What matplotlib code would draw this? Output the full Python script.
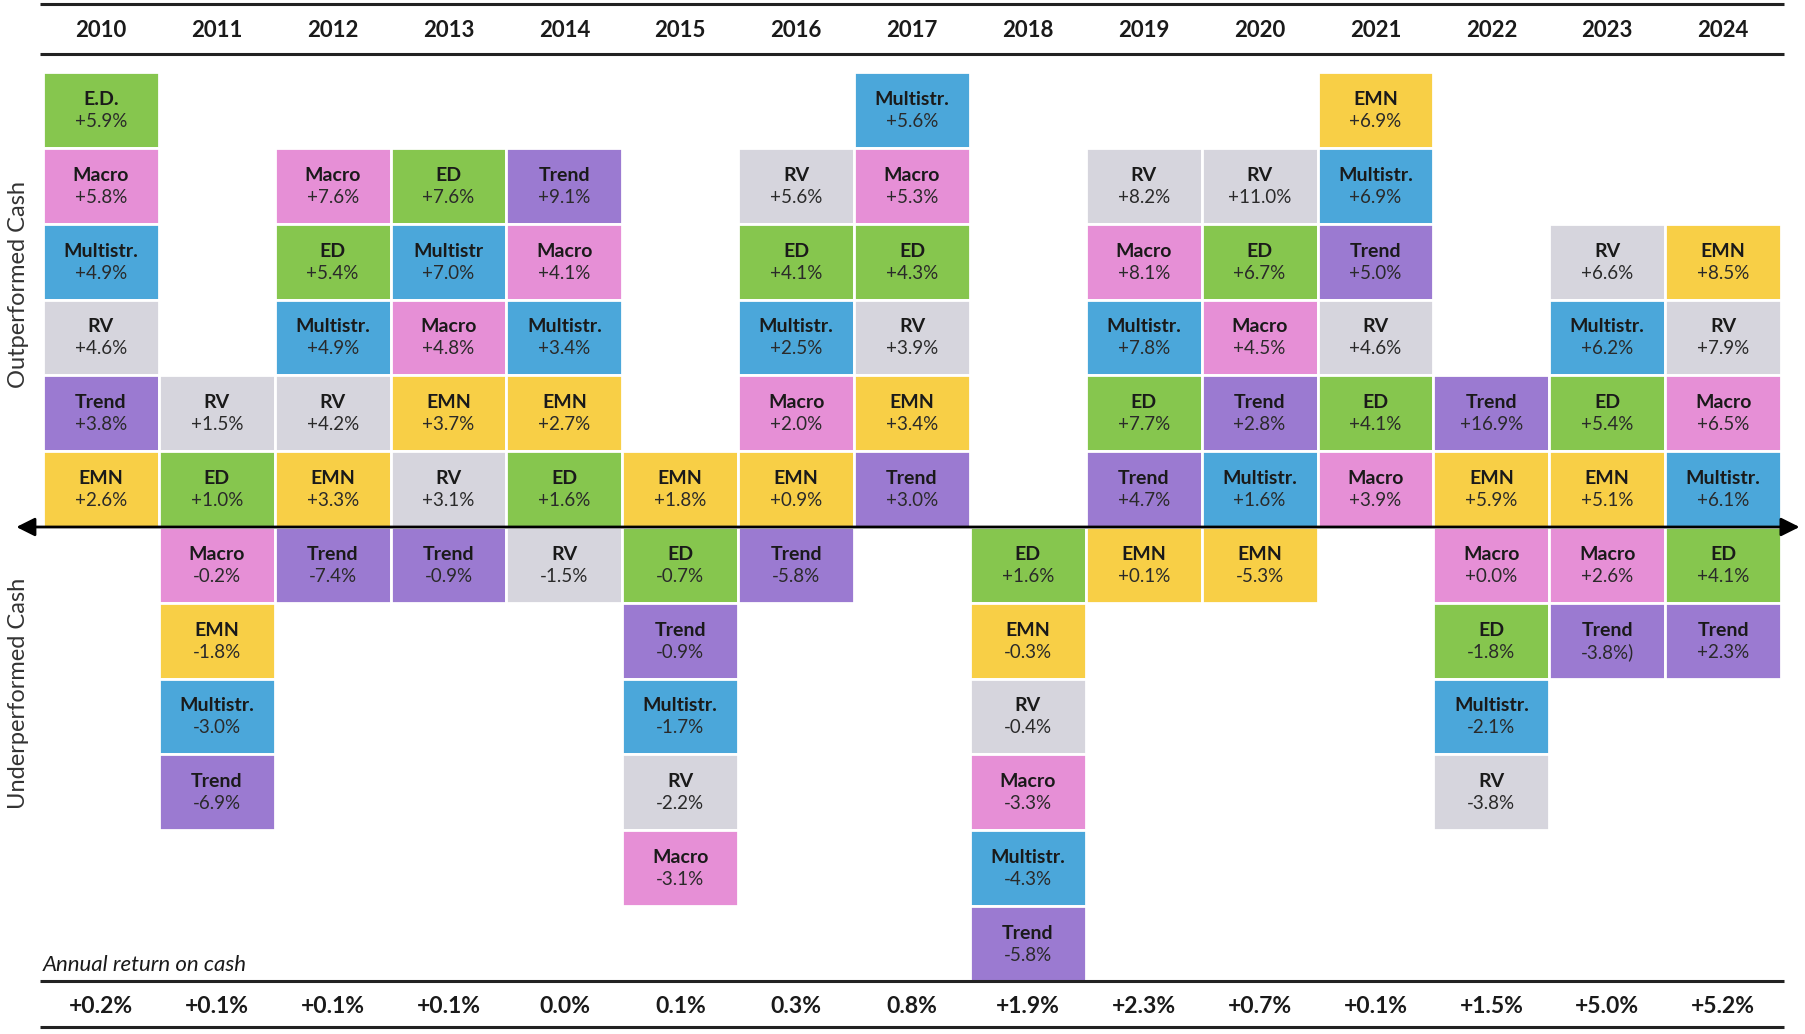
import matplotlib.pyplot as plt
import numpy as np

years = [2010, 2011, 2012, 2013, 2014, 2015, 2016, 2017, 2018, 2019, 2020, 2021, 2022, 2023, 2024]
cash = ['+0.2%', '+0.1%', '+0.1%', '+0.1%', '0.0%', '0.1%', '0.3%', '0.8%',
        '+1.9%', '+2.3%', '+0.7%', '+0.1%', '+1.5%', '+5.0%', '+5.2%']

# listed from top to bottom, as in the picture
out_names = [
    ['E.D.', 'Macro', 'Multistr.', 'RV', 'Trend', 'EMN'],
    ['RV', 'ED'],
    ['Macro', 'ED', 'Multistr.', 'RV', 'EMN'],
    ['ED', 'Multistr', 'Macro', 'EMN', 'RV'],
    ['Trend', 'Macro', 'Multistr.', 'EMN', 'ED'],
    ['EMN'],
    ['RV', 'ED', 'Multistr.', 'Macro', 'EMN'],
    ['Multistr.', 'Macro', 'ED', 'RV', 'EMN', 'Trend'],
    [],
    ['RV', 'Macro', 'Multistr.', 'ED', 'Trend'],
    ['RV', 'ED', 'Macro', 'Trend', 'Multistr.'],
    ['EMN', 'Multistr.', 'Trend', 'RV', 'ED', 'Macro'],
    ['Trend', 'EMN'],
    ['RV', 'Multistr.', 'ED', 'EMN'],
    ['EMN', 'RV', 'Macro', 'Multistr.'],
]
out_vals = [
    ['+5.9%', '+5.8%', '+4.9%', '+4.6%', '+3.8%', '+2.6%'],
    ['+1.5%', '+1.0%'],
    ['+7.6%', '+5.4%', '+4.9%', '+4.2%', '+3.3%'],
    ['+7.6%', '+7.0%', '+4.8%', '+3.7%', '+3.1%'],
    ['+9.1%', '+4.1%', '+3.4%', '+2.7%', '+1.6%'],
    ['+1.8%'],
    ['+5.6%', '+4.1%', '+2.5%', '+2.0%', '+0.9%'],
    ['+5.6%', '+5.3%', '+4.3%', '+3.9%', '+3.4%', '+3.0%'],
    [],
    ['+8.2%', '+8.1%', '+7.8%', '+7.7%', '+4.7%'],
    ['+11.0%', '+6.7%', '+4.5%', '+2.8%', '+1.6%'],
    ['+6.9%', '+6.9%', '+5.0%', '+4.6%', '+4.1%', '+3.9%'],
    ['+16.9%', '+5.9%'],
    ['+6.6%', '+6.2%', '+5.4%', '+5.1%'],
    ['+8.5%', '+7.9%', '+6.5%', '+6.1%'],
]
under_names = [
    [],
    ['Macro', 'EMN', 'Multistr.', 'Trend'],
    ['Trend'],
    ['Trend'],
    ['RV'],
    ['ED', 'Trend', 'Multistr.', 'RV', 'Macro'],
    ['Trend'],
    [],
    ['ED', 'EMN', 'RV', 'Macro', 'Multistr.', 'Trend'],
    ['EMN'],
    ['EMN'],
    [],
    ['Macro', 'ED', 'Multistr.', 'RV'],
    ['Macro', 'Trend'],
    ['ED', 'Trend'],
]
under_vals = [
    [],
    ['-0.2%', '-1.8%', '-3.0%', '-6.9%'],
    ['-7.4%'],
    ['-0.9%'],
    ['-1.5%'],
    ['-0.7%', '-0.9%', '-1.7%', '-2.2%', '-3.1%'],
    ['-5.8%'],
    [],
    ['+1.6%', '-0.3%', '-0.4%', '-3.3%', '-4.3%', '-5.8%'],
    ['+0.1%'],
    ['-5.3%'],
    [],
    ['+0.0%', '-1.8%', '-2.1%', '-3.8%'],
    ['+2.6%', '-3.8%)'],
    ['+4.1%', '+2.3%'],
]

colors = {'ED': '#86c64e', 'Macro': '#e68fd6', 'Multistr': '#4ba7da',
          'RV': '#d6d5dd', 'Trend': '#9b7ad1', 'EMN': '#f8cf46'}


def tile_color(name):
    return colors[name.replace('.', '')]


plt.rcParams['font.family'] = ['Lato', 'DejaVu Sans']
fig = plt.figure(figsize=(18.06, 10.34), dpi=100)
ax = fig.add_axes([0, 0, 1, 1])
# one unit = one tile (about 115.9 x 75.8 px), cash line at y=0
ax.set_xlim(-43 / 115.87, 15 + 25 / 115.87)
ax.set_ylim(-(1034 - 527) / 75.8, 527 / 75.8)
ax.axis('off')

txt = '#1a1a1a'
for i in range(len(years)):
    n = len(out_names[i])
    for j, (nm, v) in enumerate(zip(out_names[i], out_vals[i])):
        b = n - 1 - j
        ax.bar(i + 0.5, 1, bottom=b, width=1, color=tile_color(nm),
               edgecolor='white', linewidth=2)
        ax.text(i + 0.5, b + 0.64, nm, ha='center', va='center',
                fontsize=14, fontweight='bold', color=txt)
        ax.text(i + 0.5, b + 0.35, v, ha='center', va='center',
                fontsize=13.5, color='#2a2a2a')
    for j, (nm, v) in enumerate(zip(under_names[i], under_vals[i])):
        b = -j - 1
        ax.bar(i + 0.5, 1, bottom=b, width=1, color=tile_color(nm),
               edgecolor='white', linewidth=2)
        ax.text(i + 0.5, b + 0.64, nm, ha='center', va='center',
                fontsize=14, fontweight='bold', color=txt)
        ax.text(i + 0.5, b + 0.35, v, ha='center', va='center',
                fontsize=13.5, color='#2a2a2a')

    ax.text(i + 0.5, 6.55, str(years[i]), ha='center', va='center',
            fontsize=16, fontweight='bold', color=txt)
    ax.text(i + 0.5, -6.33, cash[i], ha='center', va='center',
            fontsize=16.5, fontweight='bold', color=txt)

# header / footer rules
for y in [6.9, 6.24, -5.99, -6.6]:
    ax.plot([-0.03, 15.03], [y, y], color='#222222', lw=2.2, solid_capstyle='butt')

ax.text(0.0, -5.78, 'Annual return on cash', ha='left', va='center',
        fontsize=16, style='italic', color=txt)

# cash axis arrow
ax.annotate('', xy=(15.16, 0), xytext=(-0.23, 0),
            arrowprops=dict(arrowstyle='<|-|>', color='black', lw=2,
                            mutation_scale=28, shrinkA=0, shrinkB=0))

ax.text(-0.215, 3.2, 'Outperformed Cash', rotation=90, ha='center', va='center',
        fontsize=17, color='#333333')
ax.text(-0.215, -2.2, 'Underperformed Cash', rotation=90, ha='center', va='center',
        fontsize=17, color='#333333')

fig.savefig('out.png', dpi=100)
